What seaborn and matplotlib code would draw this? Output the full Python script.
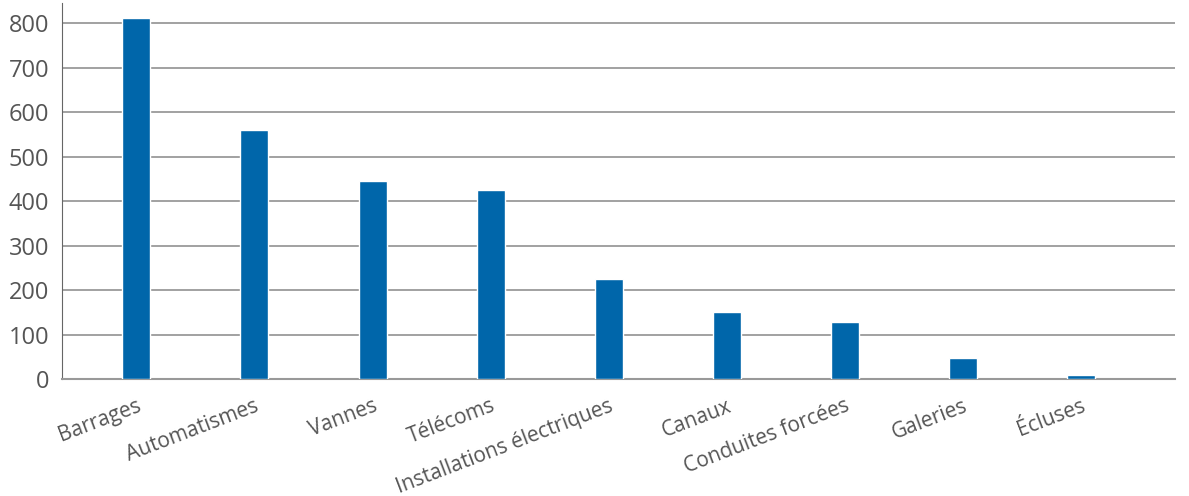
import pandas as pd
import matplotlib
matplotlib.use("Agg")
import matplotlib.pyplot as plt
import seaborn as sns

# Data
categories = ["Barrages", "Automatismes", "Vannes", "Télécoms",
              "Installations électriques", "Canaux", "Conduites forcées",
              "Galeries", "Écluses"]
values = [813, 561, 446, 426, 225, 151, 128, 47, 9]

df = pd.DataFrame({"categorie": categories, "nombre": values})

sns.set_style("white")
plt.rcParams['font.family'] = ['Open Sans', 'DejaVu Sans']

fig = plt.figure(figsize=(11.89, 4.96), dpi=100)
ax = fig.add_axes([0.052, 0.236, 0.936, 0.758])

sns.barplot(data=df, x="categorie", y="nombre", color="#0066AA",
            width=0.237, saturation=1, ax=ax, zorder=3)

ax.set_xlim(-0.63, 8.79)
ax.set_ylim(0, 846)
ax.set_yticks(range(0, 900, 100))
ax.yaxis.grid(True, color="#888888", linewidth=1.1, zorder=0)
ax.xaxis.grid(False)
ax.set_xlabel("")
ax.set_ylabel("")

for side in ["top", "right"]:
    ax.spines[side].set_visible(False)
ax.spines["left"].set_color("#666666")
ax.spines["bottom"].set_color("#999999")
ax.spines["bottom"].set_linewidth(1.5)

ax.tick_params(axis="y", length=0, pad=9, labelsize=17, labelcolor="#555555")
ax.tick_params(axis="x", length=0, pad=12, labelsize=15, labelcolor="#555555")
for lab in ax.get_xticklabels():
    lab.set_rotation(21)
    lab.set_ha("right")
    lab.set_rotation_mode("anchor")

fig.savefig("out.png", dpi=100)
